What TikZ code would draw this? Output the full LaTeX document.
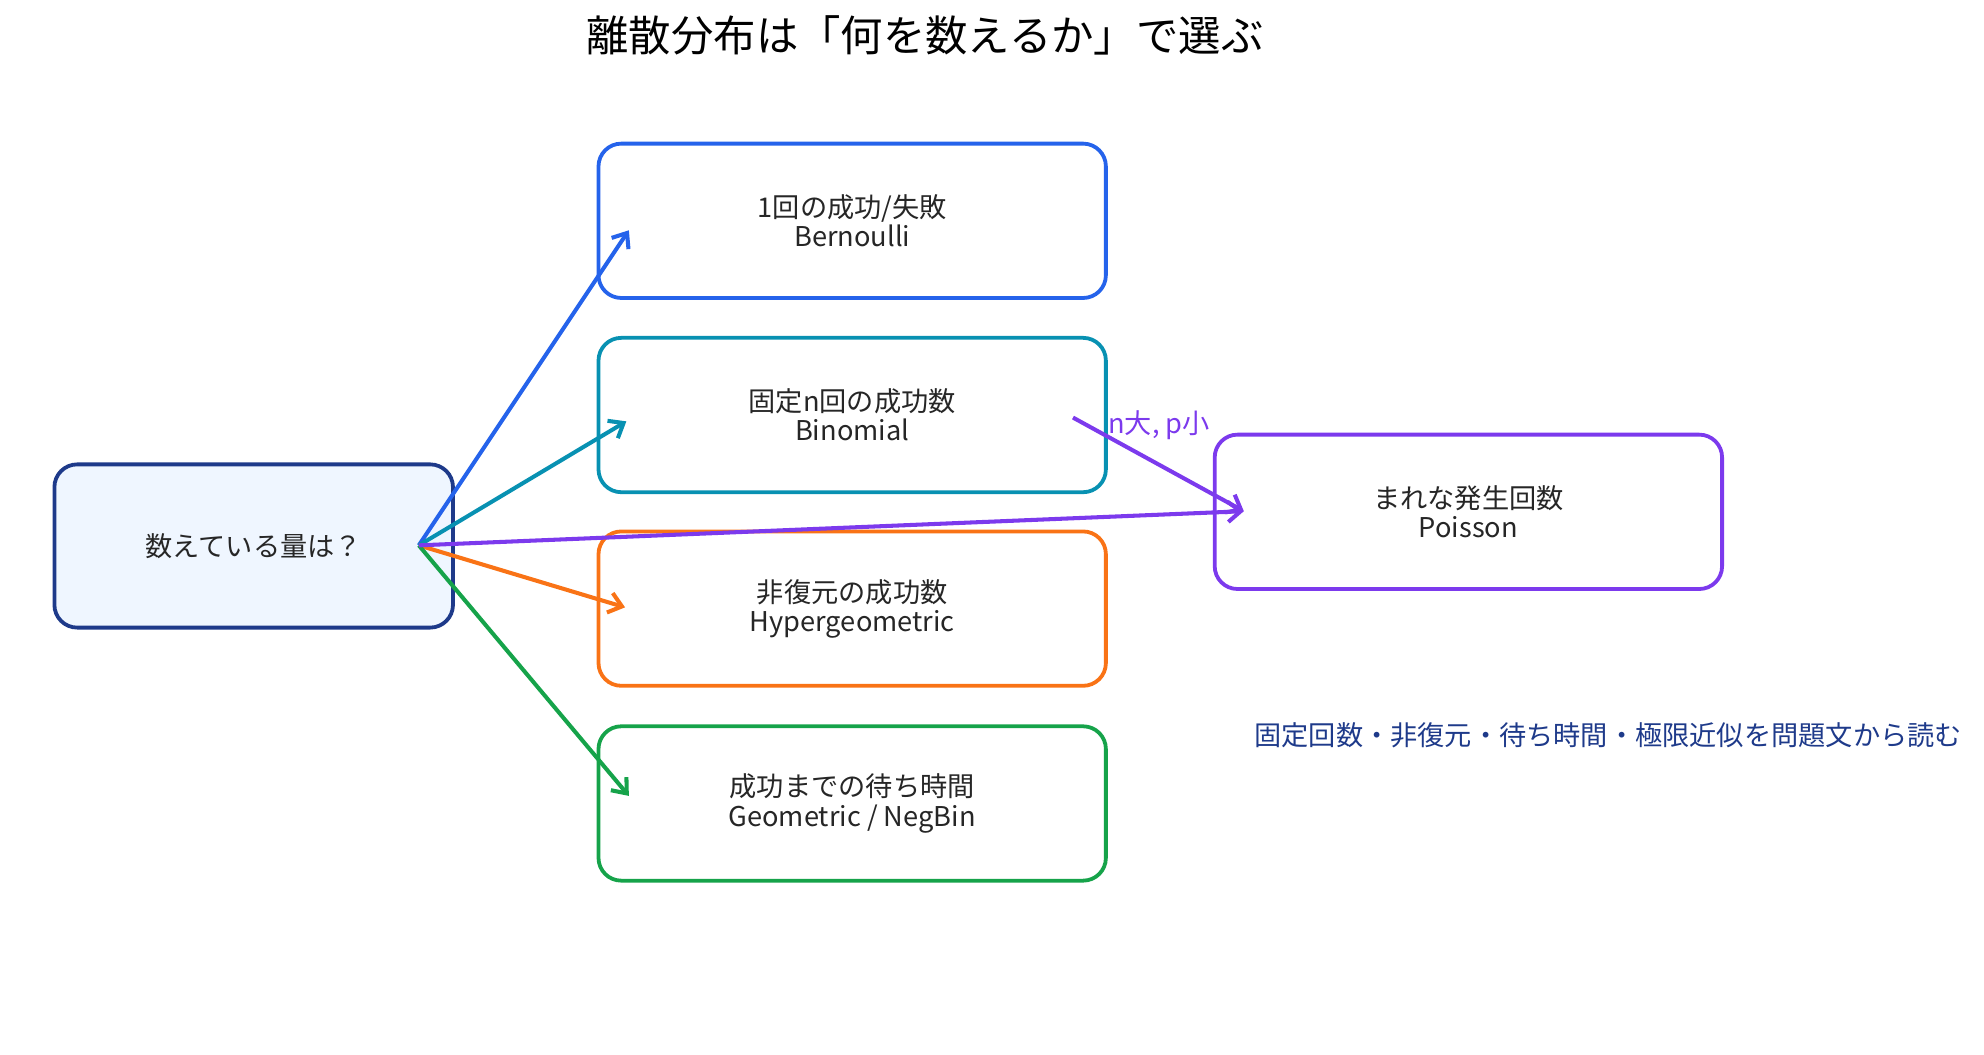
\documentclass[tikz,border=0pt]{standalone}
\usepackage{fontspec}
\setmainfont{Noto Sans CJK JP}
\usetikzlibrary{arrows.meta}
\definecolor{navy}{HTML}{1E3A8A}
\definecolor{cblue}{HTML}{2563EB}
\definecolor{cteal}{HTML}{0891B2}
\definecolor{corange}{HTML}{F97316}
\definecolor{cgreen}{HTML}{16A34A}
\definecolor{cpurple}{HTML}{7C3AED}
\definecolor{lightfill}{HTML}{EFF6FF}
\begin{document}
\begin{tikzpicture}[x=1pt,y=-1pt,
  box/.style={draw, line width=3pt, rounded corners=18pt, fill=white, text=black!85, font=\fontsize{21.5}{23}\selectfont, align=center, minimum width=401pt, minimum height=122pt},
  arr/.style={line width=3.2pt, -{Straight Barb[length=10pt,width=16pt,line width=3.2pt]}}]
\useasboundingbox (0,0) rectangle (1568,833);
\node[font=\fontsize{33.5}{36}\selectfont] (title) at (731,28) {離散分布は「何を数えるか」で選ぶ};
\node[box, draw=navy, fill=lightfill, minimum width=315pt, minimum height=129pt] (q) at (200.5,431.5) {数えている量は？};
\node[box, draw=cblue] (b) at (673.5,174.5) {1回の成功/失敗\\Bernoulli};
\node[box, draw=cteal] (bn) at (673.5,328) {固定n回の成功数\\Binomial};
\node[box, draw=corange] (h) at (673.5,481) {非復元の成功数\\Hypergeometric};
\node[box, draw=cgreen] (g) at (673.5,635) {成功までの待ち時間\\Geometric / NegBin};
\node[box, draw=cpurple] (p) at (1160.5,404.5) {まれな発生回数\\Poisson};
\node[font=\fontsize{21.5}{23}\selectfont, text=navy, anchor=east] (note) at (1554,581) {固定回数・非復元・待ち時間・極限近似を問題文から読む};
\coordinate (s) at (331,431);
\coordinate (tb) at (497,182);
\coordinate (tbn) at (495,333);
\coordinate (th) at (494,480);
\coordinate (tg) at (497,629);
\coordinate (tp) at (983,404);
\coordinate (sbn) at (848,330);
\draw[arr, cblue] (s) -- (tb);
\draw[arr, cteal] (s) -- (tbn);
\draw[arr, corange] (s) -- (th);
\draw[arr, cgreen] (s) -- (tg);
\draw[arr, cpurple] (s) -- (tp);
\draw[arr, cpurple] (sbn) -- (tp);
\node[font=\fontsize{21.5}{23}\selectfont, text=cpurple] (lab) at (916,336) {n大, p小};
\end{tikzpicture}
\end{document}
